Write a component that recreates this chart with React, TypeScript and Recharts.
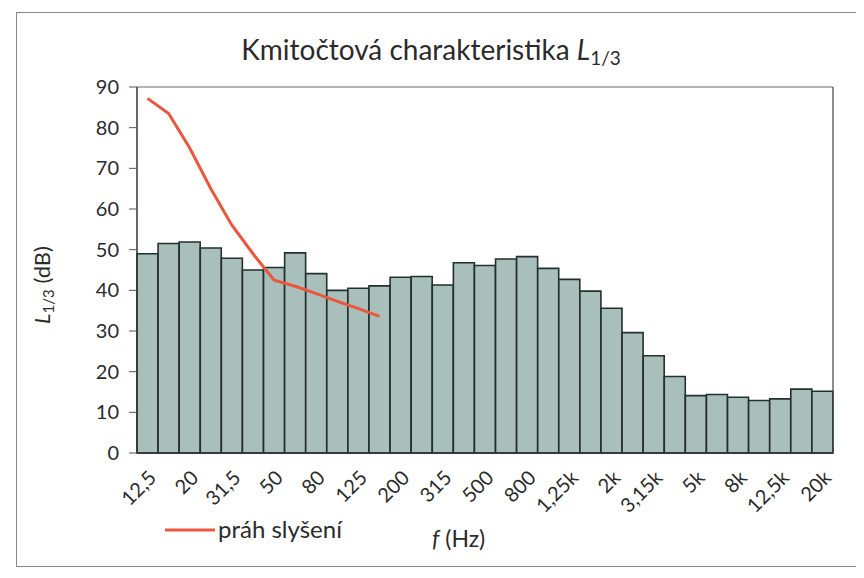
import React from "react";
import { ComposedChart, Bar, Line, XAxis, YAxis, CartesianGrid, Legend } from "recharts";

const bands = ["12,5","16","20","25","31,5","40","50","63","80","100","125","160","200","250","315","400","500","630","800","1k","1,25k","1,6k","2k","2,5k","3,15k","4k","5k","6,3k","8k","10k","12,5k","16k","20k"];
const levels = [49.0, 51.5, 51.9, 50.4, 47.9, 45.0, 45.6, 49.2, 44.1, 40.0, 40.5, 41.1, 43.2, 43.4, 41.3, 46.8, 46.1, 47.7, 48.3, 45.4, 42.7, 39.8, 35.6, 29.6, 23.9, 18.8, 14.1, 14.4, 13.7, 12.9, 13.3, 15.7, 15.2];
const threshold: (number | null)[] = [87.2, 83.5, 75, 65, 56, 49, 42.5, 41, 39.2, 37.3, 35.5, 33.6, null, null, null, null, null, null, null, null, null, null, null, null, null, null, null, null, null, null, null, null, null];
const yTicks = [0, 10, 20, 30, 40, 50, 60, 70, 80, 90];

const data = bands.map((b, i) => ({ band: b, level: levels[i], prah: threshold[i] }));

const FONT = "Lato, 'Open Sans', sans-serif";
const TXT = "#2b2b2b";
const LINE_COLOR = "#e9583c";

const LegendContent = () => (
  <svg width={200} height={30} style={{ overflow: "visible", display: "block" }}>
    <line x1={0} y1={14} x2={50} y2={14} stroke={LINE_COLOR} strokeWidth={3} />
    <text x={53} y={22} fontFamily={FONT} fontSize={24} fill={TXT}>práh slyšení</text>
  </svg>
);

export default function App() {
  return (
    <div style={{ position: "relative", width: 864, height: 578, margin: -8, background: "#fff", fontFamily: FONT }}>
      <div style={{ position: "absolute", left: 16, top: 12, width: 842, height: 555, border: "1px solid #888", boxSizing: "border-box" }} />
      <div style={{ position: "absolute", left: 0, top: 0 }}>
        <ComposedChart
          width={864}
          height={578}
          data={data}
          margin={{ top: 87, right: 30, bottom: 35, left: 0 }}
          barCategoryGap={0}
          barGap={0}
        >
          <CartesianGrid vertical={false} stroke="#6a6a6a" strokeWidth={1} />
          <XAxis
            dataKey="band"
            interval={1}
            tickLine={false}
            axisLine={{ stroke: "#333", strokeWidth: 1.5 }}
            angle={-45}
            textAnchor="end"
            height={60}
            tickMargin={10}
            tick={{ fontSize: 20, fill: TXT, fontFamily: FONT }}
          />
          <YAxis
            yAxisId="l"
            domain={[0, 90]}
            ticks={yTicks}
            interval={0}
            width={137}
            tickSize={8}
            tickMargin={10}
            axisLine={{ stroke: "#333", strokeWidth: 1.5 }}
            tickLine={{ stroke: "#555" }}
            tick={{ fontSize: 20, fill: TXT, fontFamily: FONT }}
          />
          <YAxis
            yAxisId="r"
            orientation="right"
            domain={[0, 90]}
            ticks={yTicks}
            width={1}
            tick={false}
            tickLine={false}
            axisLine={{ stroke: "#444", strokeWidth: 1.2 }}
          />
          <Bar
            yAxisId="l"
            dataKey="level"
            fill="#a8bfbb"
            stroke="#22302e"
            strokeWidth={1.6}
            isAnimationActive={false}
            legendType="none"
          />
          <Line
            yAxisId="l"
            dataKey="prah"
            name="práh slyšení"
            stroke={LINE_COLOR}
            strokeWidth={3}
            dot={false}
            activeDot={false}
            connectNulls={false}
            isAnimationActive={false}
          />
          <Legend
            content={<LegendContent />}
            wrapperStyle={{ position: "absolute", left: 165, top: 516, width: 200, height: 30 }}
          />
        </ComposedChart>
      </div>
      <svg width={864} height={578} style={{ position: "absolute", left: 0, top: 0, pointerEvents: "none" }}>
        <text x={431} y={60} textAnchor="middle" fontFamily={FONT} fontSize={28} fill={TXT}>
          Kmitočtová charakteristika <tspan fontStyle="italic">L</tspan>
          <tspan fontSize={19} dy={5}>1/3</tspan>
        </text>
        <text x={50} y={285} textAnchor="middle" fontFamily={FONT} fontSize={22} fill={TXT} transform="rotate(-90 50 285)">
          <tspan fontStyle="italic">L</tspan>
          <tspan fontSize={15} dy={4}>1/3</tspan>
          <tspan dy={-4}> (dB)</tspan>
        </text>
        <text x={432} y={547} fontFamily={FONT} fontSize={23} fill={TXT}>
          <tspan fontStyle="italic">f</tspan> (Hz)
        </text>
      </svg>
    </div>
  );
}
